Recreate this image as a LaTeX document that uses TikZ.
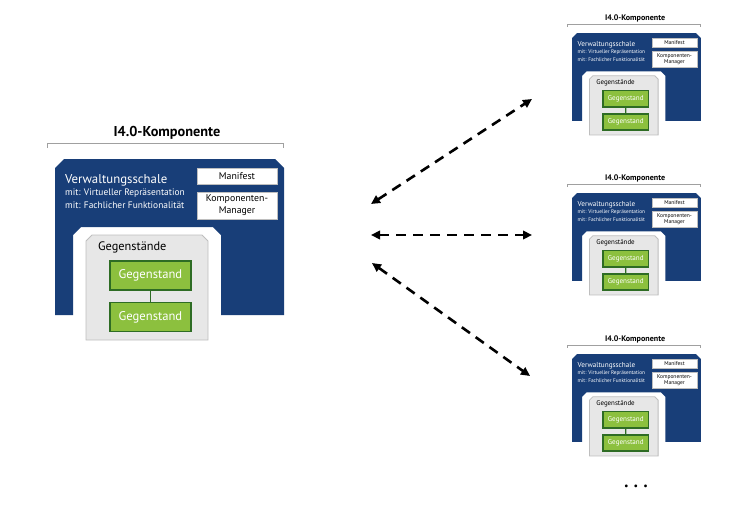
\documentclass[tikz,border=0pt]{standalone}
\usepackage{fontspec}
\setmainfont{PT Sans}
\usetikzlibrary{arrows.meta}

\definecolor{vwsblue}{RGB}{24,62,120}
\definecolor{geggreen}{RGB}{140,192,62}
\definecolor{gegdark}{RGB}{46,108,36}
\definecolor{gegfill}{RGB}{231,231,231}
\definecolor{gegline}{RGB}{190,190,190}
\definecolor{klammergray}{RGB}{160,160,160}

\begin{document}
\begin{tikzpicture}[x=1pt, y=-1pt,
    komptitle/.style={font=\bfseries\fontsize{14.3}{16}\selectfont, inner sep=0pt},
    klammer/.style={draw=klammergray, line width=0.8pt},
    vwstext/.style={font=\fontsize{12.8}{14}\selectfont, text=white, anchor=west, inner sep=0pt},
    subtext/.style={font=\fontsize{9.4}{11}\selectfont, text=white, anchor=west, inner sep=0pt},
    whitebox/.style={draw=gegline, fill=white, minimum width=80pt, inner sep=1pt, align=center,
        font=\fontsize{9.8}{11.8}\selectfont},
    gegrahmen/.style={draw=gegline, fill=gegfill, line width=0.8pt},
    gegtext/.style={font=\fontsize{12.3}{14}\selectfont, anchor=west, inner sep=0pt},
    greenbox/.style={draw=gegdark, line width=1.8pt, fill=geggreen, text=white,
        minimum width=81pt, minimum height=29pt, font=\fontsize{12.6}{14}\selectfont},
    pfeil/.style={line width=2.6pt, dash pattern=on 10pt off 7pt,
        {Triangle[length=9pt,width=8.5pt]}-{Triangle[length=9pt,width=8.5pt]}},
    komp/.pic={
      % title + bracket
      \node[komptitle] (-title) at (112,-26) {I4.0-Komponente};
      \draw[klammer] (-8,-11) -- (-8,-16) -- (228,-16) -- (228,-11);
      % Verwaltungsschale
      \fill[vwsblue] (0,9) -- (9,0) -- (220,0) -- (229,9) -- (229,156) -- (166,156)
        -- (166,76) -- (158,68) -- (26,68) -- (18,76) -- (18,156) -- (0,156) -- cycle;
      \node[vwstext] (-vws) at (10,21) {Verwaltungsschale};
      \node[subtext] (-sub1) at (10,34) {mit: Virtueller Repräsentation};
      \node[subtext] (-sub2) at (10,46.5) {mit: Fachlicher Funktionalität};
      \node[whitebox, minimum height=16pt] (-manifest) at (182,17) {Manifest};
      \node[whitebox, minimum height=27pt] (-manager) at (182,46.5) {Komponenten-\\Manager};
      % Gegenstaende
      \filldraw[gegrahmen] (31,181) -- (31,82) -- (37,76) -- (147,76) -- (153,82) -- (153,181) -- cycle;
      \node[gegtext] (-geg) at (43,88) {Gegenstände};
      \node[greenbox] (-g1) at (95.5,116.5) {Gegenstand};
      \node[greenbox] (-g2) at (95.5,158) {Gegenstand};
      \draw[gegdark, line width=1.4pt] (-g1) -- (-g2);
    },
  ]
    \useasboundingbox (0,0) rectangle (756,522);

    \pic (big) at (55,159) {komp};

    \pic[scale=0.563, transform shape] (k1) at (572,33) {komp};
    \pic[scale=0.563, transform shape] (k2) at (572,193) {komp};
    \pic[scale=0.563, transform shape] (k3) at (572,354) {komp};

    \coordinate (A1) at (371,204);
    \coordinate (B1) at (532,99);
    \coordinate (A2) at (371,235);
    \coordinate (B2) at (532,235);
    \coordinate (A3) at (372,263);
    \coordinate (B3) at (530,376);

    \draw[pfeil] (A1) -- (B1);
    \draw[pfeil] (A2) -- (B2);
    \draw[pfeil] (A3) -- (B3);

    \node[font=\fontsize{10}{12}\selectfont] (dots) at (636,487)
      {\textbullet\hspace{5pt}\textbullet\hspace{5pt}\textbullet};

\end{tikzpicture}
\end{document}
